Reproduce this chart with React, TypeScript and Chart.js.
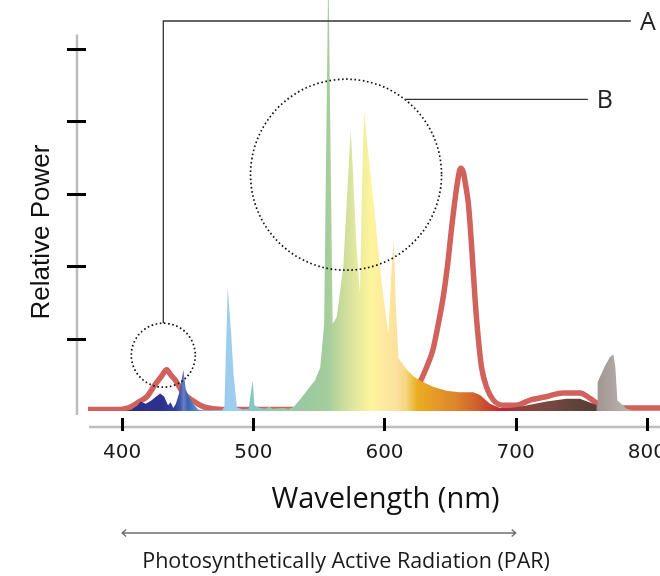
import React, { useEffect, useRef } from "react";
import { Chart, registerables } from "chart.js";

Chart.register(...registerables);

// ---- data ----
const spectrumNm = [
  374, 403, 407, 412, 414, 418, 422, 426, 429, 432, 435, 437, 439, 441, 443.5, 446.7, 448.5, 451, 454, 458,
  462, 476, 478, 480.5, 483, 485, 487.5, 492, 496.5, 498.5, 499.6, 500.8, 504, 509, 512, 515, 522, 527,
  531, 536, 540, 543, 547, 551, 554, 557.2, 560.5, 563.6, 568.6, 571, 574.2, 576, 578.5, 581.3, 582.8,
  584.4, 588, 591.5, 597.9, 602.9, 605.5, 607.2, 608.6, 610.6, 617, 622, 627, 637, 647, 657, 667.7,
  672.8, 680.4, 688, 695, 703, 723.6, 738.8, 749, 756, 762, 762.5, 768, 772, 774.5, 776, 777.5, 784.5,
  790, 810,
];
const spectrumPower = [
  0, 0, 0.02, 0.08, 0.13, 0.1, 0.14, 0.2, 0.24, 0.2, 0.08, 0.12, 0.04, 0.1, 0.25, 0.57, 0.3, 0.2, 0.1, 0.02,
  0.01, 0.01, 0.06, 1.71, 1.1, 0.5, 0.05, 0.02, 0.03, 0.3, 0.42, 0.08, 0.05, 0.03, 0.06, 0.03, 0.04, 0.03,
  0.06, 0.17, 0.26, 0.335, 0.42, 0.6, 1.2, 6.2, 1.2, 1.3, 1.99, 2.8, 3.88, 3.3, 2.3, 1.62, 3.0,
  4.13, 3.5, 2.91, 1.76, 1.07, 2.0, 2.36, 1.5, 0.73, 0.57, 0.48, 0.42, 0.335, 0.28, 0.26, 0.26,
  0.22, 0.1, 0.04, 0.04, 0.06, 0.13, 0.17, 0.17, 0.12, 0.08, 0.4, 0.62, 0.75, 0.78, 0.6, 0.15, 0.03,
  0, 0,
];

const ledNm = [
  374, 397, 404, 408, 413, 419, 425, 430, 434, 437, 440.4, 446.5, 454, 461.7, 469, 480, 580, 584, 593,
  600, 610, 620, 627, 632, 637, 641, 645, 648, 651, 654, 656, 658, 660, 662, 664, 666.5, 669, 671.5,
  674, 678, 683, 690, 700, 711, 724, 736, 749, 757, 764, 774, 810,
];
const ledPower = [
  0.02, 0.02, 0.04, 0.07, 0.13, 0.2, 0.36, 0.48, 0.57, 0.5, 0.43, 0.25, 0.14, 0.06, 0.03, 0.02, 0.02, 0.03, 0.05,
  0.09, 0.16, 0.26, 0.4, 0.6, 0.85, 1.2, 1.6, 2.0, 2.5, 2.95, 3.2, 3.35, 3.3, 3.1, 2.85, 2.25, 1.55, 1.0,
  0.6, 0.32, 0.15, 0.08, 0.08, 0.15, 0.2, 0.25, 0.25, 0.17, 0.08, 0.04, 0.04,
];

const xTicks = [400, 500, 600, 700, 800];
const yTicks = [1, 2, 3, 4, 5];
const xTitle = "Wavelength (nm)";
const yTitle = "Relative Power";
const parLabel = "Photosynthetically Active Radiation (PAR)";
const parRange = [400, 700];

// annotation anchors in data units: circle centre, leader height, leader end
const markerLabels = ["A", "B"];
const markerNm = [431.4, 570.7];
const markerPower = [0.77, 3.26];
const markerLeaderPower = [5.38, 4.3];
const markerLeaderEndNm = [787.8, 755];

// spectrum colour stops (nm -> colour)
const gradientNm = [400, 430, 440, 444, 447, 450, 458, 470, 481, 490, 497, 505, 520, 540, 557, 566, 576, 590, 600, 610, 616, 625, 640, 655, 670, 682, 690, 700, 720, 745, 761, 762.5, 780];
const gradientColors = [
  "#2b2d80", "#2e3192", "#2f3f9e", "#3a55aa", "#6f7cc4", "#3a62b4", "#5a94d2", "#8cc4ec", "#9dcdef", "#9ccfe8",
  "#86c6c4", "#8cc7bc", "#96caae", "#9ac9a0", "#a5cd9c", "#c3d99c", "#dfe59e", "#fff59c", "#fde9a0", "#fbe09c",
  "#f5d680", "#eaae20", "#e4982a", "#dc842a", "#d0602c", "#c83a2e", "#c02434", "#983a3a", "#7b4a42", "#614239",
  "#5a3d37", "#a09692", "#b5adaa",
];

const X_MIN = 374;
const X_MAX = 810;
const Y_MIN = 0;
const Y_MAX = 5.67;

const spectrumFill = (ctx: any) => {
  const chart = ctx.chart;
  const area = chart.chartArea;
  const xs = chart.scales.x;
  if (!area || !xs) return "#9ac9a0";
  const x0 = xs.getPixelForValue(X_MIN);
  const x1 = xs.getPixelForValue(X_MAX);
  const g = chart.ctx.createLinearGradient(x0, 0, x1, 0);
  gradientNm.forEach((nm, i) => {
    g.addColorStop((nm - X_MIN) / (X_MAX - X_MIN), gradientColors[i]);
  });
  return g;
};

const overlayPlugin = {
  id: "overlay",
  afterDatasetDraw(chart: any, args: any) {
    if (args.index !== 0) return;
    const ctx = chart.ctx;
    const xs = chart.scales.x;
    const ys = chart.scales.y;
    const radii = [32, 95.5];
    ctx.save();
    markerLabels.forEach((label, i) => {
      const cx = xs.getPixelForValue(markerNm[i]);
      const cy = ys.getPixelForValue(markerPower[i]);
      const r = radii[i];
      ctx.setLineDash([1.6, 2.6]);
      ctx.lineWidth = 1.7;
      ctx.strokeStyle = "#111";
      ctx.beginPath();
      ctx.arc(cx, cy, r, 0, Math.PI * 2);
      ctx.stroke();
      ctx.setLineDash([]);
      const ly = ys.getPixelForValue(markerLeaderPower[i]);
      const lx = xs.getPixelForValue(markerLeaderEndNm[i]);
      ctx.lineWidth = 1.3;
      ctx.strokeStyle = "#333";
      ctx.beginPath();
      if (i === 0) {
        ctx.moveTo(cx, cy - r);
        ctx.lineTo(cx, ly);
        ctx.lineTo(lx, ly);
      } else {
        const dy = cy - ly;
        const dx = Math.sqrt(Math.max(r * r - dy * dy, 0));
        ctx.moveTo(cx + dx, ly);
        ctx.lineTo(lx, ly);
      }
      ctx.stroke();
      ctx.fillStyle = "#222";
      ctx.font = "25px 'Open Sans'";
      ctx.textAlign = "left";
      ctx.textBaseline = "middle";
      ctx.fillText(label, lx + 9, ly + 2);
    });
    ctx.restore();
  },
  afterDraw(chart: any) {
    const ctx = chart.ctx;
    const xs = chart.scales.x;
    const ys = chart.scales.y;
    const area = chart.chartArea;
    const base = ys.getPixelForValue(0);
    ctx.save();
    const yAxisX = area.left - 11;
    ctx.strokeStyle = "#bdbdbd";
    ctx.lineWidth = 2.5;
    ctx.beginPath();
    ctx.moveTo(yAxisX, ys.getPixelForValue(5) - 14);
    ctx.lineTo(yAxisX, base + 4);
    ctx.stroke();
    const xAxisY = base + 16;
    ctx.beginPath();
    ctx.moveTo(area.left + 1, xAxisY);
    ctx.lineTo(area.right, xAxisY);
    ctx.stroke();
    ctx.strokeStyle = "#000";
    ctx.lineWidth = 3;
    yTicks.forEach((v) => {
      const y = Math.round(ys.getPixelForValue(v)) + 0.5;
      ctx.beginPath();
      ctx.moveTo(yAxisX - 10, y);
      ctx.lineTo(yAxisX + 9, y);
      ctx.stroke();
    });
    xTicks.forEach((v) => {
      const x = Math.round(xs.getPixelForValue(v)) + 0.5;
      ctx.beginPath();
      ctx.moveTo(x, xAxisY - 9);
      ctx.lineTo(x, xAxisY + 4);
      ctx.stroke();
    });
    // tick labels
    ctx.fillStyle = "#1a1a1a";
    ctx.font = "20px 'DejaVu Sans'";
    ctx.textAlign = "center";
    ctx.textBaseline = "middle";
    xTicks.forEach((v) => {
      ctx.fillText(String(v), xs.getPixelForValue(v), xAxisY + 26);
    });
    // x title
    ctx.font = "29px 'Open Sans'";
    ctx.fillStyle = "#111";
    ctx.fillText(xTitle, xs.getPixelForValue(600) + 1, xAxisY + 73);
    // PAR arrow
    const pY = xAxisY + 106;
    const p0 = xs.getPixelForValue(parRange[0]);
    const p1 = xs.getPixelForValue(parRange[1]);
    ctx.strokeStyle = "#6e6e6e";
    ctx.lineWidth = 1.4;
    ctx.beginPath();
    ctx.moveTo(p0, pY);
    ctx.lineTo(p1, pY);
    ctx.moveTo(p0 + 4, pY - 3.5);
    ctx.lineTo(p0, pY);
    ctx.lineTo(p0 + 4, pY + 3.5);
    ctx.moveTo(p1 - 4, pY - 3.5);
    ctx.lineTo(p1, pY);
    ctx.lineTo(p1 - 4, pY + 3.5);
    ctx.stroke();
    // PAR label
    ctx.fillStyle = "#1a1a1a";
    ctx.font = "21.5px 'Open Sans'";
    ctx.textAlign = "center";
    ctx.fillText(parLabel, xs.getPixelForValue(570.7), pY + 29);
    // y title
    ctx.save();
    ctx.translate(42, 232);
    ctx.rotate(-Math.PI / 2);
    ctx.font = "26px 'Liberation Sans'";
    ctx.fillStyle = "#111";
    ctx.fillText(yTitle, 0, 0);
    ctx.restore();
    ctx.restore();
  },
};

export default function App() {
  const canvasRef = useRef<HTMLCanvasElement | null>(null);

  useEffect(() => {
    const canvas = canvasRef.current;
    if (!canvas) return;
    const chart = new Chart(canvas, {
      type: "line",
      data: {
        datasets: [
          {
            label: "Spectrum",
            data: spectrumNm.map((nm, i) => ({ x: nm, y: spectrumPower[i] })),
            fill: "origin",
            backgroundColor: spectrumFill,
            borderColor: "rgba(0,0,0,0)",
            borderWidth: 0,
            pointRadius: 0,
            tension: 0,
          },
          {
            label: "LED",
            data: ledNm.map((nm, i) => ({ x: nm, y: ledPower[i] })),
            fill: false,
            borderColor: "#d0625b",
            borderWidth: 5.5,
            pointRadius: 0,
            cubicInterpolationMode: "monotone",
            borderCapStyle: "round",
            borderJoinStyle: "round",
          },
        ],
      },
      options: {
        responsive: false,
        devicePixelRatio: 1,
        animation: false,
        layout: { padding: { left: 88, right: 0, top: 0, bottom: 165 } },
        plugins: { legend: { display: false }, tooltip: { enabled: false } },
        scales: {
          x: { type: "linear", min: X_MIN, max: X_MAX, display: false },
          y: { type: "linear", min: Y_MIN, max: Y_MAX, display: false },
        },
      },
      plugins: [overlayPlugin],
    });
    return () => chart.destroy();
  }, []);

  return (
    <div style={{ position: "fixed", left: 0, top: 0, width: 660, height: 576, background: "#fff" }}>
      <canvas ref={canvasRef} width={660} height={576} style={{ display: "block", width: 660, height: 576 }} />
    </div>
  );
}
